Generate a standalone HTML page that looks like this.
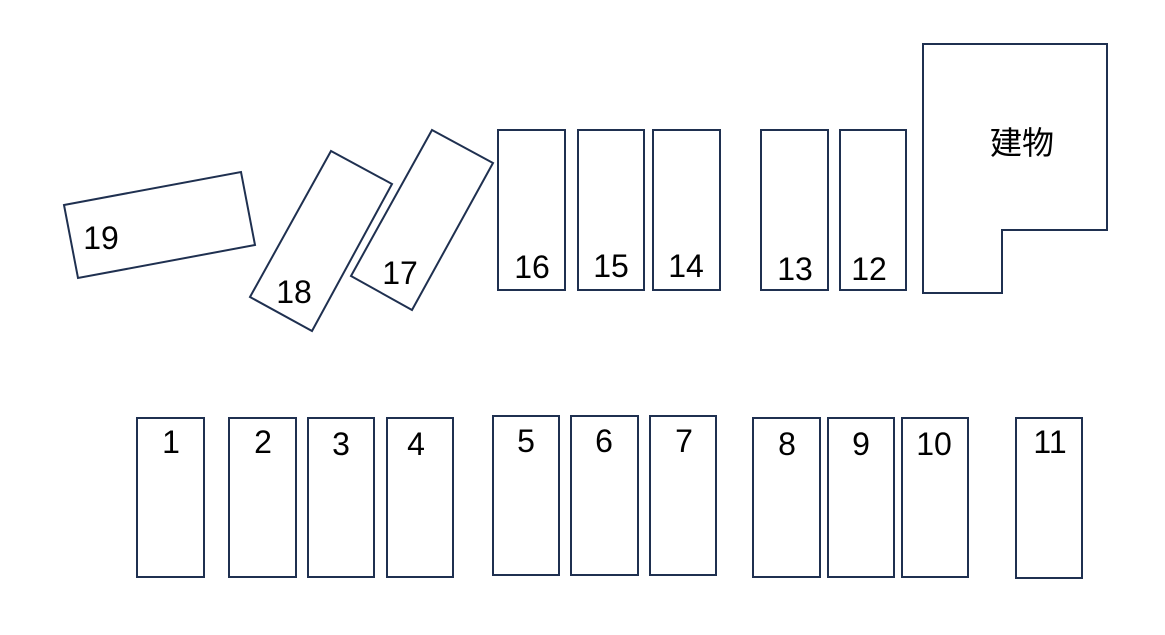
<!DOCTYPE html>
<html><head><meta charset="utf-8"><style>
html,body{margin:0;padding:0;background:#fff;}
svg text{font-family:"Liberation Sans","Noto Sans CJK JP",sans-serif;font-size:32px;fill:#000;}
</style></head><body>
<svg width="1165" height="630" viewBox="0 0 1165 630" xmlns="http://www.w3.org/2000/svg">
<g fill="none" stroke="#1f3050" stroke-width="2">
<rect x="137" y="418" width="67" height="159"/>
<rect x="229" y="418" width="67" height="159"/>
<rect x="308" y="418" width="66" height="159"/>
<rect x="387" y="418" width="66" height="159"/>
<rect x="493" y="416" width="66" height="159"/>
<rect x="571" y="416" width="67" height="159"/>
<rect x="650" y="416" width="66" height="159"/>
<rect x="753" y="418" width="67" height="159"/>
<rect x="828" y="418" width="66" height="159"/>
<rect x="902" y="418" width="66" height="159"/>
<rect x="1016" y="418" width="66" height="160"/>
<rect x="498" y="130" width="67" height="160"/>
<rect x="578" y="130" width="66" height="160"/>
<rect x="653" y="130" width="67" height="160"/>
<rect x="761" y="130" width="67" height="160"/>
<rect x="840" y="130" width="66" height="160"/>
<polygon points="923,44 1107,44 1107,230 1002,230 1002,293 923,293"/>
<polygon points="64,205 241,172 255,245 78,278"/>
<polygon points="331,151 392,184 312,331 250,297"/>
<polygon points="432,130 493,163 412,310 351,276"/>
</g>
<g text-anchor="middle">
<text x="171" y="453">1</text>
<text x="263" y="453">2</text>
<text x="341" y="455">3</text>
<text x="416" y="455">4</text>
<text x="526" y="452">5</text>
<text x="604" y="452">6</text>
<text x="684" y="452">7</text>
<text x="787" y="455">8</text>
<text x="861" y="455">9</text>
<text x="934" y="455">10</text>
<text x="1050" y="453">11</text>
<text x="532" y="278">16</text>
<text x="611" y="277">15</text>
<text x="686" y="277">14</text>
<text x="795" y="280">13</text>
<text x="869" y="280">12</text>
<text x="101" y="249">19</text>
<text x="294" y="303">18</text>
<text x="400" y="284">17</text>
<text x="1022" y="154">建物</text>
</g>
</svg>
</body></html>
